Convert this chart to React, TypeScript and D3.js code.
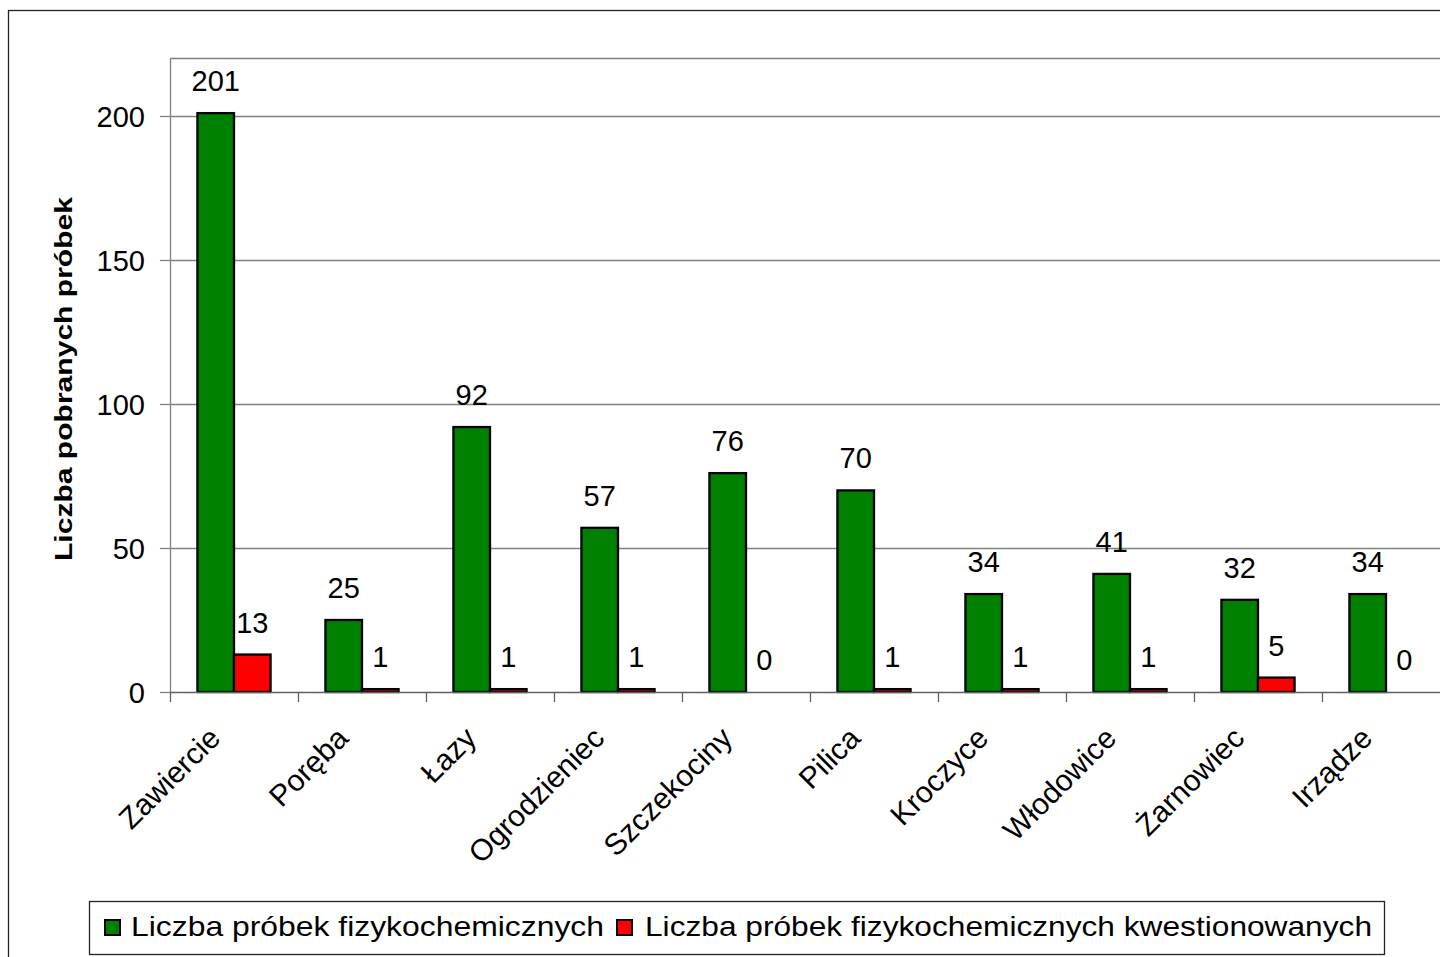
import { useEffect, useRef } from 'react';
import * as d3 from 'd3';

const CATEGORIES = [
  'Zawiercie',
  'Poręba',
  'Łazy',
  'Ogrodzieniec',
  'Szczekociny',
  'Pilica',
  'Kroczyce',
  'Włodowice',
  'Żarnowiec',
  'Irządze',
];
const FIZYKOCHEM = [201, 25, 92, 57, 76, 70, 34, 41, 32, 34];
const KWESTIONOWANE = [13, 1, 1, 1, 0, 1, 1, 1, 5, 0];
const Y_TICKS = [0, 50, 100, 150, 200];
const SERIES_NAMES = [
  'Liczba próbek fizykochemicznych',
  'Liczba próbek fizykochemicznych kwestionowanych',
];
const SERIES_COLORS = ['#008000', '#ff0000'];
const Y_TITLE = 'Liczba pobranych próbek';

const W = 1440;
const H = 957;
const FONT = '"Liberation Sans", Arial, sans-serif';

export default function App() {
  const svgRef = useRef<SVGSVGElement>(null);

  useEffect(() => {
    if (!svgRef.current) return;
    const svg = d3.select(svgRef.current);
    svg.selectAll('*').remove();

    const plot = { left: 170, right: 1450, top: 58.4, bottom: 692 };

    const x = d3.scaleBand<string>().domain(CATEGORIES).range([plot.left, plot.right]).paddingInner(0).paddingOuter(0);
    const y = d3.scaleLinear().domain([0, 220]).range([plot.bottom, plot.top]);
    const barW = x.bandwidth() / 3.5;
    const inner = d3.scaleBand<number>().domain([0, 1]).range([barW * 0.75, barW * 2.75]);

    svg.attr('width', W).attr('height', H).attr('viewBox', `0 0 ${W} ${H}`);

    svg.append('rect').attr('width', W).attr('height', H).attr('fill', '#fff');

    // ramka wykresu
    svg
      .append('rect')
      .attr('x', 8.5)
      .attr('y', 10.5)
      .attr('width', W + 20)
      .attr('height', H + 20)
      .attr('fill', 'none')
      .attr('stroke', '#222')
      .attr('stroke-width', 1.3);

    // siatka
    svg
      .append('g')
      .selectAll('line')
      .data([...Y_TICKS.filter((t) => t > 0), 220])
      .join('line')
      .attr('x1', plot.left)
      .attr('x2', plot.right)
      .attr('y1', (d) => Math.round(y(d)) + 0.5)
      .attr('y2', (d) => Math.round(y(d)) + 0.5)
      .attr('stroke', '#808080')
      .attr('stroke-width', 1.3);

    // oś Y
    const yAxis = svg.append('g');
    yAxis
      .append('line')
      .attr('x1', plot.left + 0.5)
      .attr('x2', plot.left + 0.5)
      .attr('y1', plot.top)
      .attr('y2', plot.bottom)
      .attr('stroke', '#808080')
      .attr('stroke-width', 1.3);
    yAxis
      .selectAll('line.tick')
      .data(Y_TICKS)
      .join('line')
      .attr('class', 'tick')
      .attr('x1', plot.left - 10)
      .attr('x2', plot.left)
      .attr('y1', (d) => Math.round(y(d)) + 0.5)
      .attr('y2', (d) => Math.round(y(d)) + 0.5)
      .attr('stroke', '#808080')
      .attr('stroke-width', 1.3);
    yAxis
      .selectAll('text')
      .data(Y_TICKS)
      .join('text')
      .attr('x', plot.left - 25)
      .attr('y', (d) => y(d) + 10.5)
      .attr('text-anchor', 'end')
      .style('font-family', FONT)
      .style('font-size', '29px')
      .text((d) => d);

    svg
      .append('text')
      .attr('transform', `translate(72, ${(197 + 561) / 2}) rotate(-90)`)
      .attr('text-anchor', 'middle')
      .attr('textLength', 364)
      .attr('lengthAdjust', 'spacingAndGlyphs')
      .style('font-family', FONT)
      .style('font-size', '24px')
      .style('font-weight', '700')
      .text(Y_TITLE);

    // słupki
    const series = [FIZYKOCHEM, KWESTIONOWANE];
    series.forEach((values, si) => {
      const g = svg.append('g');
      g.selectAll('rect')
        .data(values.map((v, i) => ({ v, c: CATEGORIES[i] })).filter((d) => d.v > 0))
        .join('rect')
        .attr('x', (d) => (x(d.c) ?? 0) + (inner(si) ?? 0))
        .attr('y', (d) => y(d.v))
        .attr('width', inner.bandwidth())
        .attr('height', (d) => plot.bottom - y(d.v))
        .attr('fill', SERIES_COLORS[si])
        .attr('stroke', '#000')
        .attr('stroke-width', 2.3);
      g.selectAll('text')
        .data(values.map((v, i) => ({ v, c: CATEGORIES[i] })))
        .join('text')
        .attr('x', (d) => (x(d.c) ?? 0) + (inner(si) ?? 0) + inner.bandwidth() / 2)
        .attr('y', (d) => y(d.v) - 22)
        .attr('text-anchor', 'middle')
        .style('font-family', FONT)
        .style('font-size', '29px')
        .text((d) => d.v);
    });

    // oś X
    const xAxis = svg.append('g');
    xAxis
      .append('line')
      .attr('x1', plot.left)
      .attr('x2', plot.right)
      .attr('y1', plot.bottom + 0.5)
      .attr('y2', plot.bottom + 0.5)
      .attr('stroke', '#606060')
      .attr('stroke-width', 1.5);
    xAxis
      .selectAll('line.tick')
      .data(CATEGORIES)
      .join('line')
      .attr('class', 'tick')
      .attr('x1', (d) => Math.round(x(d) ?? 0) + 0.5)
      .attr('x2', (d) => Math.round(x(d) ?? 0) + 0.5)
      .attr('y1', plot.bottom)
      .attr('y2', plot.bottom + 10)
      .attr('stroke', '#606060')
      .attr('stroke-width', 1.3);
    xAxis
      .selectAll('text')
      .data(CATEGORIES)
      .join('text')
      .attr('transform', (d) => `translate(${(x(d) ?? 0) + x.bandwidth() / 2 - 12}, 740) rotate(-45)`)
      .attr('text-anchor', 'end')
      .style('font-family', FONT)
      .style('font-size', '30px')
      .text((d) => d);

    // legenda
    const legend = svg.append('g');
    legend
      .append('rect')
      .attr('x', 89.5)
      .attr('y', 901.5)
      .attr('width', 1295)
      .attr('height', 53)
      .attr('fill', '#fff')
      .attr('stroke', '#222')
      .attr('stroke-width', 1.3);
    const items = [
      { sx: 105, tx: 131, len: 473 },
      { sx: 617, tx: 645, len: 727 },
    ];
    SERIES_NAMES.forEach((name, i) => {
      legend
        .append('rect')
        .attr('x', items[i].sx)
        .attr('y', 920)
        .attr('width', 15)
        .attr('height', 15)
        .attr('fill', SERIES_COLORS[i])
        .attr('stroke', '#000')
        .attr('stroke-width', 2);
      legend
        .append('text')
        .attr('x', items[i].tx)
        .attr('y', 936)
        .attr('textLength', items[i].len)
        .attr('lengthAdjust', 'spacingAndGlyphs')
        .style('font-family', FONT)
        .style('font-size', '28px')
        .text(name);
    });
  }, []);

  return <svg ref={svgRef} style={{ position: 'absolute', left: 0, top: 0, display: 'block' }} />;
}
